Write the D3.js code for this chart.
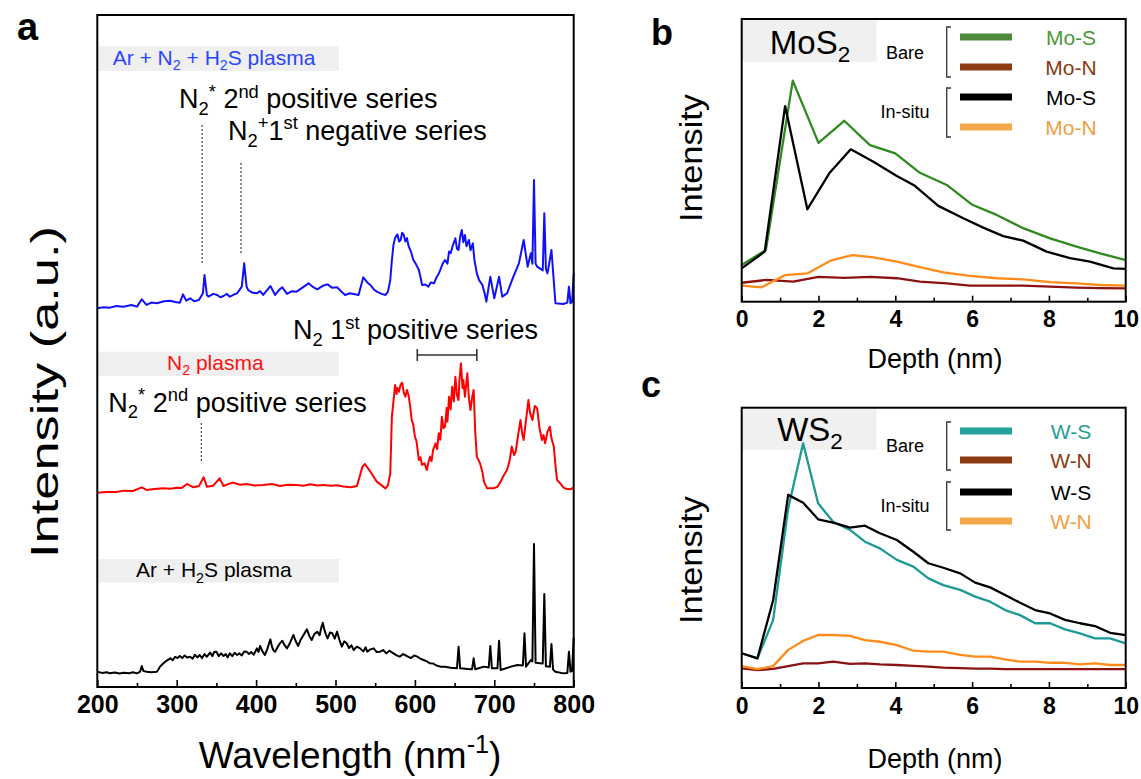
<!DOCTYPE html>
<html>
<head>
<meta charset="utf-8">
<script src="https://cdn.jsdelivr.net/npm/d3@7"></script>
<style>
  body { margin: 0; background: #fff; }
  svg { display: block; }
  text { font-family: "Liberation Sans", Arial, Helvetica, sans-serif; }
</style>
</head>
<body>
<svg id="fig" width="1141" height="779"></svg>
<script>
// ---------- Panel a: optical emission spectra (wavelength in nm, intensity in a.u.) ----------
const arH2sWl = [200,206,212,216,222,228,233,240,245,250,254,256,258,262,268,275,277,279,283,287,292,295,298,301,304,307,310,313,317,320,323,326,329,332,335,338,342,345,347,350,353,356,359,362,364,367,370,373,376,379,382,385,388,391,394,397,401,403,405,408,411,414,416,418,420,422,424,427,430,433,436,439,442,445,447,450,453,456,459,462,464,467,470,473,477,480,482,484,486,488,490,493,496,499,502,505,508,511,514,517,520,523,527,531,535,538,540,544,548,552,556,560,564,568,573,577,581,585,590,595,599,603,607,611,615,619,623,627,632,638,645,653,655,657,670,672,674,676,687,693,695,697,700,704,706,708,721,729,736,738,740,746,748,750,752,758,761,763,765,770,772,774,777,787,792,794,796,798,800];
const arH2sVal = [2.28,2.10,2.20,2.03,2.15,2.00,2.13,2.05,2.20,2.03,2.30,3.13,2.40,2.28,2.20,2.28,2.60,3.03,3.50,3.90,4.27,4.00,4.50,4.30,4.61,4.30,4.70,4.40,4.51,4.20,4.80,4.40,4.76,4.30,4.90,4.50,5.11,4.60,5.20,5.26,4.60,5.00,4.61,4.90,4.40,5.01,4.60,5.10,4.76,5.00,4.70,5.30,5.26,4.90,5.20,4.80,5.75,5.20,6.10,5.30,4.76,5.60,6.40,7.09,6.00,5.40,5.26,5.90,6.50,6.89,6.20,5.75,6.40,7.20,7.74,6.80,6.10,7.00,7.60,8.20,8.58,7.60,6.99,7.80,8.23,7.70,8.80,9.57,8.50,7.80,7.24,8.10,7.99,7.20,8.23,7.00,6.00,6.80,6.50,5.80,6.20,5.51,6.00,5.75,5.30,5.90,5.26,5.60,5.75,5.20,5.26,5.50,5.01,5.40,5.01,4.70,4.51,4.90,4.61,4.30,4.70,4.51,4.20,4.02,3.80,3.52,3.50,3.20,3.03,3.00,2.88,2.80,6.00,2.78,2.63,2.65,4.27,2.63,3.03,2.90,6.10,2.78,2.78,2.80,6.89,2.53,3.03,3.27,3.20,7.99,3.03,4.02,3.80,21.28,3.60,3.52,3.50,13.84,3.10,3.00,6.40,2.60,2.28,2.03,2.10,5.26,2.28,2.40,7.34];

const n2Wl = [200,212,224,233,245,256,262,272,283,292,300,306,313,321,328,334,338,346,354,359,365,371,380,388,398,409,420,430,440,451,460,468,477,485,494,502,510,519,527,534,537,544,552,563,566,569,571,573,575,577,578,580,582,584,586,588,590,592,594,596,598,600,602,605,607,609,612,615,617,619,621,623,626,628,630,632,634,636,638,640,641,643,645,647,649,651,653,655,656,658,660,661,663,666,668,670,672,674,676,678,682,685,687,691,699,704,708,712,716,719,722,725,727,730,733,735,737,740,743,745,748,751,754,757,760,762,764,767,770,772,775,777,779,783,787,790,796,800];
const n2Val = [1.92,2.00,2.02,2.22,2.17,2.71,2.32,2.45,2.56,2.50,2.66,2.60,3.21,2.71,2.90,4.20,2.81,2.96,4.06,2.91,3.20,3.41,3.10,3.21,3.00,3.06,3.20,2.91,3.10,3.06,2.95,3.16,2.98,3.06,2.95,3.01,2.85,2.71,2.91,5.79,6.19,5.04,3.56,2.56,3.00,4.80,13.23,15.50,17.94,16.60,17.50,16.95,18.00,18.29,16.80,16.20,17.20,16.45,14.80,12.73,12.00,10.25,9.60,6.78,7.20,6.04,6.30,5.29,6.40,7.28,6.60,8.30,9.26,8.40,10.75,9.80,13.23,11.50,11.74,14.50,12.50,16.20,14.30,17.69,15.50,19.18,16.40,15.71,18.50,21.16,17.50,18.68,16.20,19.68,16.00,14.22,16.00,17.19,11.00,7.28,6.29,5.00,3.56,2.56,2.56,2.80,3.56,4.50,5.29,6.50,8.77,7.50,8.02,10.50,12.73,10.80,9.76,12.80,15.71,13.80,12.73,14.80,14.47,11.50,9.76,10.50,9.26,11.00,11.74,10.00,8.77,6.00,3.81,3.31,2.71,2.50,2.42,2.71];

const arN2H2sWl = [200,208,216,224,233,243,250,256,262,268,275,284,292,298,304,308,312,317,322,328,333,335,338,340,346,351,355,359,363,367,372,376,382,385,388,390,395,401,405,409,418,424,429,433,439,445,451,458,466,472,477,484,490,496,502,507,512,518,523,529,535,540,544,548,552,558,563,566,569,571,573,575,578,580,582,584,586,588,590,592,595,598,601,605,607,609,613,617,620,624,627,630,632,635,638,641,643,645,648,651,653,655,657,659,661,663,665,668,670,673,675,678,681,685,688,690,695,700,706,710,716,724,731,737,742,746,748,750,752,754,761,763,765,767,772,777,787,792,794,796,798,800];
const arN2H2sVal = [2.35,2.50,2.45,2.70,2.60,2.85,2.60,3.69,2.85,3.20,3.10,3.40,3.49,3.30,3.19,4.43,3.50,3.84,3.40,3.59,4.58,7.31,4.34,4.09,4.50,4.34,4.00,4.19,4.50,4.09,4.40,4.58,5.58,9.05,5.58,5.08,4.70,4.58,4.90,4.34,5.67,4.34,5.10,5.48,4.49,4.90,4.83,5.40,6.07,5.50,5.18,5.70,5.92,5.40,5.48,4.90,4.34,4.60,4.49,4.34,6.96,6.20,5.82,5.20,4.83,4.50,4.34,4.80,6.57,9.50,11.78,12.80,13.37,12.30,12.52,13.60,13.27,12.30,12.80,11.63,10.80,9.54,9.00,8.06,7.00,5.82,5.90,5.58,6.20,6.07,6.90,7.50,8.06,9.00,9.54,9.00,10.80,10.54,11.80,12.77,11.20,11.03,13.00,14.01,12.20,13.27,11.60,12.52,11.00,12.02,9.50,7.56,6.50,5.82,4.50,3.34,7.06,3.84,7.06,4.09,4.58,7.06,9.05,12.52,8.55,10.54,9.00,21.45,9.00,8.55,8.00,16.49,8.20,7.56,11.03,3.10,3.00,3.20,5.58,3.10,3.30,7.56];

// vertical offsets used to stack the three spectra
const spectraOffsets = [0, 27, 54];
const spectraColors = ["#000000", "#ff0000", "#1010ff"];
const wlTicks = [200, 300, 400, 500, 600, 700, 800];
const wlMinorTicks = [250, 350, 450, 550, 650, 750];

// emission-band markers (nm)
const secondPositiveTop = 332, firstNegativeTop = 381, secondPositiveMid = 331;
const firstPositiveRange = [603, 678];

// ---------- Panels b, c: depth profiles (depth in nm, intensity in arbitrary units) ----------
const moBareSDepth = [0,0.63,1.33,2.0,2.67,3.34,4.0,4.64,5.34,5.99,6.64,7.33,8.03,8.72,9.33,9.93,10];
const moBareS      = [13.0,18.3,78.2,56.2,64.0,55.4,52.5,45.6,41.3,34.4,30.7,26.0,22.4,19.5,17.1,15.0,14.8];
const moBareNDepth = [0,0.65,1.34,2.0,2.67,3.36,4.04,4.64,5.34,5.94,6.64,7.33,8.03,8.72,9.33,10];
const moBareN      = [6.7,7.7,7.1,8.8,8.4,8.8,8.3,7.1,6.5,5.7,5.7,5.7,5.3,5.0,4.8,4.7];
const moInsituSDepth = [0,0.6,1.13,1.71,2.28,2.84,3.43,4.04,4.51,5.12,5.77,6.29,6.81,7.33,7.94,8.55,9.07,9.68,10];
const moInsituS      = [11.8,17.7,69.2,32.7,45.4,53.9,49.5,44.5,41.0,33.9,29.5,26.2,23.2,21.6,17.7,15.4,14.2,11.8,11.6];
const moInsituNDepth = [0,0.52,1.13,1.71,2.31,2.88,3.43,4.04,4.64,5.25,5.94,6.64,7.33,8.03,8.72,9.33,10];
const moInsituN      = [5.7,5.1,9.4,10.0,14.5,16.5,15.7,14.2,12.2,10.4,9.1,8.3,7.9,6.9,6.5,5.9,5.7];

const wDepth = [0,0.41,0.82,1.21,1.6,1.99,2.38,2.82,3.21,3.6,4.04,4.47,4.86,5.25,5.69,6.08,6.47,6.86,7.25,7.64,8.03,8.42,8.81,9.2,9.59,10];
const wBareS   = [12.4,10.6,24.3,64.0,87.3,65.9,59.3,56.4,52.2,49.8,45.7,43.3,39.1,36.7,35.0,32.6,30.8,27.8,26.0,23.1,23.1,20.9,19.5,17.7,17.7,15.9];
const wBareN   = [7.0,6.4,6.8,7.8,8.8,8.8,9.4,8.6,8.8,8.4,8.2,7.9,7.6,7.3,7.1,6.9,6.9,6.7,6.7,6.7,6.7,6.7,6.7,6.7,6.7,6.7];
const wInsituS = [12.4,10.6,31.4,68.9,66.1,60.2,59.0,57.2,57.9,55.2,52.8,48.6,44.5,42.9,40.9,37.6,35.9,33.2,30.4,27.8,26.6,24.3,23.1,22.1,19.7,18.9];
const wInsituN = [7.8,6.7,7.8,13.6,16.8,18.9,18.9,18.6,17.1,16.5,15.3,13.3,13.0,13.0,11.8,11.2,11.2,10.2,9.4,9.4,9.0,9.0,8.4,8.8,8.2,8.2];

const depthTicks = [0, 2, 4, 6, 8, 10];
const depthMinorTicks = [1, 3, 5, 7, 9];

const moLegendLabels = ["Mo-S", "Mo-N", "Mo-S", "Mo-N"];
const wLegendLabels  = ["W-S", "W-N", "W-S", "W-N"];
const legendGroups = ["Bare", "In-situ"];
const moLineColors = ["#2f8a1f", "#8b1212", "#000000", "#ff8c1a"];
const wLineColors  = ["#1c9a94", "#8b1212", "#000000", "#ff8c1a"];
const moSwatchColors = ["#4f8a3a", "#8b3a12", "#000000", "#f2a84a"];
const wSwatchColors  = ["#22a29b", "#8b3a12", "#000000", "#f2a84a"];
const moTextColors = ["#4e9a36", "#8b3a12", "#000000", "#f0a040"];
const wTextColors  = ["#1f9d96", "#8b3a12", "#000000", "#f0a040"];

// ---------- helpers ----------
const svg = d3.select("#fig");

// rich text with subscripts / superscripts: parts = [[string, "n"|"sub"|"sup"], ...]
function richText(parent, x, y, parts, size, opts = {}) {
  const t = parent.append("text")
    .attr("x", x).attr("y", y)
    .attr("font-size", size)
    .attr("fill", opts.fill || "#000")
    .attr("font-weight", opts.weight || "normal")
    .attr("text-anchor", opts.anchor || "start");
  let shift = 0;
  parts.forEach(([s, kind]) => {
    let target = 0, fs = size;
    if (kind === "sub") { target = size * 0.25; fs = size * 0.68; }
    if (kind === "sup") { target = -size * 0.4; fs = size * 0.68; }
    t.append("tspan")
      .attr("dy", target - shift)
      .attr("font-size", fs)
      .text(s);
    shift = target;
  });
  return t;
}

function styleAxis(g, fontSize) {
  g.select(".domain").remove();
  g.selectAll(".tick line").attr("stroke", "#000").attr("stroke-width", 1.6);
  g.selectAll(".tick text")
    .attr("fill", "#000")
    .attr("font-size", fontSize)
    .attr("font-weight", "bold")
    .attr("font-family", '"Liberation Sans", Arial, sans-serif');
}

// ---------- Panel a ----------
const ax = { left: 97.3, right: 573.7, top: 15, bottom: 687 };
const xWl = d3.scaleLinear().domain([200, 800]).range([ax.left, ax.right]);
const yA = d3.scaleLinear().domain([0, 100]).range([ax.bottom, ax.top]);

const pa = svg.append("g");

// label boxes
const labelBoxes = [
  { y0: 46, y1: 71 }, { y0: 351.7, y1: 376 }, { y0: 559, y1: 582.7 }
];
labelBoxes.forEach(b => {
  pa.append("rect").attr("x", ax.left + 1).attr("y", b.y0)
    .attr("width", 339 - ax.left - 1).attr("height", b.y1 - b.y0)
    .attr("fill", "#efefef");
});
richText(pa, 112.7, 65, [["Ar + N", "n"], ["2", "sub"], [" + H", "n"], ["2", "sub"], ["S plasma", "n"]], 21, { fill: "#2b45ff" });
richText(pa, 167, 369.5, [["N", "n"], ["2", "sub"], [" plasma", "n"]], 21, { fill: "#ff1010" });
richText(pa, 136, 577.3, [["Ar + H", "n"], ["2", "sub"], ["S plasma", "n"]], 21, { fill: "#000" });

const spectra = [
  { wl: arH2sWl, val: arH2sVal },
  { wl: n2Wl, val: n2Val },
  { wl: arN2H2sWl, val: arN2H2sVal }
];
spectra.forEach((s, i) => {
  const pts = s.wl.map((w, k) => [w, s.val[k] + spectraOffsets[i]]);
  pa.append("path")
    .datum(pts)
    .attr("fill", "none")
    .attr("stroke", spectraColors[i])
    .attr("stroke-width", 2)
    .attr("stroke-linejoin", "round")
    .attr("d", d3.line().x(d => xWl(d[0])).y(d => yA(d[1])));
});

// dotted band markers
const dotted = [
  { w: secondPositiveTop, y0: 125, y1: 263 },
  { w: firstNegativeTop, y0: 163, y1: 253 },
  { w: secondPositiveMid, y0: 423, y1: 462 }
];
dotted.forEach(d => {
  pa.append("line")
    .attr("x1", xWl(d.w)).attr("x2", xWl(d.w))
    .attr("y1", d.y0).attr("y2", d.y1)
    .attr("stroke", "#333").attr("stroke-width", 1.1)
    .attr("stroke-dasharray", "2,2");
});
// range bar for the first positive series
const barY = 355;
pa.append("line").attr("x1", xWl(firstPositiveRange[0])).attr("x2", xWl(firstPositiveRange[1]))
  .attr("y1", barY).attr("y2", barY).attr("stroke", "#333").attr("stroke-width", 1.6);
firstPositiveRange.forEach(w => {
  pa.append("line").attr("x1", xWl(w)).attr("x2", xWl(w))
    .attr("y1", barY - 6).attr("y2", barY + 6).attr("stroke", "#333").attr("stroke-width", 1.6);
});

richText(pa, 179, 108.3, [["N", "n"], ["2", "sub"], ["*", "sup"], ["  2", "n"], ["nd", "sup"], [" positive series", "n"]], 27);
richText(pa, 228, 140, [["N", "n"], ["2", "sub"], ["+", "sup"], ["1", "n"], ["st", "sup"], [" negative series", "n"]], 27);
richText(pa, 293, 339.3, [["N", "n"], ["2", "sub"], ["  1", "n"], ["st", "sup"], [" positive series", "n"]], 27);
richText(pa, 108.3, 411.7, [["N", "n"], ["2", "sub"], ["*", "sup"], [" 2", "n"], ["nd", "sup"], [" positive series", "n"]], 27);

// frame
pa.append("rect").attr("x", ax.left).attr("y", ax.top)
  .attr("width", ax.right - ax.left).attr("height", ax.bottom - ax.top)
  .attr("fill", "none").attr("stroke", "#000").attr("stroke-width", 2);

const gA = pa.append("g").attr("transform", `translate(0,${ax.bottom})`)
  .call(d3.axisBottom(xWl).tickValues(wlTicks).tickSize(-7).tickPadding(8).tickFormat(d3.format("d")));
styleAxis(gA, 25);
const gAm = pa.append("g").attr("transform", `translate(0,${ax.bottom})`)
  .call(d3.axisBottom(xWl).tickValues(wlMinorTicks).tickSize(-4).tickFormat(""));
styleAxis(gAm, 25);

richText(pa, 350, 768, [["Wavelength (nm", "n"], ["-1", "sup"], [")", "n"]], 37, { anchor: "middle" });
pa.append("text")
  .attr("transform", "translate(58,392) rotate(-90)")
  .attr("text-anchor", "middle")
  .attr("font-size", 38)
  .attr("textLength", 332)
  .attr("lengthAdjust", "spacingAndGlyphs")
  .text("Intensity (a.u.)");
pa.append("text").attr("x", 17).attr("y", 40).attr("font-size", 38).attr("font-weight", "bold").text("a");

// ---------- Panels b and c ----------
function depthPanel(cfg) {
  const left = 741.7, right = 1125.7;
  const x = d3.scaleLinear().domain([0, 10]).range([left, right]);
  const y = d3.scaleLinear().domain([0, 100]).range([cfg.bottom, cfg.top]);
  const g = svg.append("g");

  g.append("rect").attr("x", left).attr("y", cfg.top)
    .attr("width", 876.7 - left).attr("height", cfg.boxH).attr("fill", "#f0f0f0");
  richText(g, 810, cfg.titleY, cfg.title, 33, { anchor: "middle" });

  cfg.series.forEach(s => {
    const pts = s.d.map((dd, k) => [dd, s.v[k]]);
    g.append("path").datum(pts)
      .attr("fill", "none").attr("stroke", cfg.lineColors[s.c])
      .attr("stroke-width", 2.3).attr("stroke-linejoin", "round")
      .attr("d", d3.line().x(d => x(d[0])).y(d => y(d[1])));
  });

  // legend
  cfg.legendY.forEach((ly, i) => {
    g.append("line").attr("x1", 960).attr("x2", 1012).attr("y1", ly).attr("y2", ly)
      .attr("stroke", cfg.swatchColors[i]).attr("stroke-width", 7);
    g.append("text").attr("x", 1071).attr("y", ly + 8)
      .attr("text-anchor", "middle").attr("font-size", 21)
      .attr("fill", cfg.textColors[i]).text(cfg.labels[i]);
  });
  cfg.brackets.forEach((br, i) => {
    g.append("path")
      .attr("d", `M${951},${br[0]} H${946.7} V${br[1]} H${951}`)
      .attr("fill", "none").attr("stroke", "#333").attr("stroke-width", 1.3);
    g.append("text").attr("x", 905).attr("y", cfg.groupY[i])
      .attr("text-anchor", "middle").attr("font-size", 18).text(legendGroups[i]);
  });

  g.append("rect").attr("x", left).attr("y", cfg.top)
    .attr("width", right - left).attr("height", cfg.bottom - cfg.top)
    .attr("fill", "none").attr("stroke", "#000").attr("stroke-width", 2);

  const ga = g.append("g").attr("transform", `translate(0,${cfg.bottom})`)
    .call(d3.axisBottom(x).tickValues(depthTicks).tickSize(-6).tickPadding(cfg.pad).tickFormat(d3.format("d")));
  styleAxis(ga, 23);
  const gm = g.append("g").attr("transform", `translate(0,${cfg.bottom})`)
    .call(d3.axisBottom(x).tickValues(depthMinorTicks).tickSize(-4).tickFormat(""));
  styleAxis(gm, 23);

  g.append("text").attr("x", 935).attr("y", cfg.xTitleY)
    .attr("text-anchor", "middle").attr("font-size", 27).text("Depth (nm)");
  g.append("text")
    .attr("transform", `translate(702,${cfg.yTitleC}) rotate(-90)`)
    .attr("text-anchor", "middle").attr("font-size", 31)
    .attr("textLength", 128).attr("lengthAdjust", "spacingAndGlyphs")
    .text("Intensity");
  g.append("text").attr("x", cfg.letterX).attr("y", cfg.letterY)
    .attr("font-size", 36).attr("font-weight", "bold").text(cfg.letter);
}

depthPanel({
  top: 19, bottom: 301.7, boxH: 42.7, titleY: 53.5,
  title: [["MoS", "n"], ["2", "sub"]],
  series: [
    { d: moBareNDepth, v: moBareN, c: 1 },
    { d: moInsituNDepth, v: moInsituN, c: 3 },
    { d: moBareSDepth, v: moBareS, c: 0 },
    { d: moInsituSDepth, v: moInsituS, c: 2 }
  ],
  lineColors: moLineColors, swatchColors: moSwatchColors, textColors: moTextColors,
  labels: moLegendLabels,
  legendY: [37, 67, 97, 127],
  brackets: [[27, 77], [88, 137]],
  groupY: [59, 118],
  pad: 9, xTitleY: 368, yTitleC: 158,
  letter: "b", letterX: 651, letterY: 45
});

depthPanel({
  top: 407.7, bottom: 688, boxH: 42.3, titleY: 440.5,
  title: [["WS", "n"], ["2", "sub"]],
  series: [
    { d: wDepth, v: wBareN, c: 1 },
    { d: wDepth, v: wInsituN, c: 3 },
    { d: wDepth, v: wBareS, c: 0 },
    { d: wDepth, v: wInsituS, c: 2 }
  ],
  lineColors: wLineColors, swatchColors: wSwatchColors, textColors: wTextColors,
  labels: wLegendLabels,
  legendY: [431, 460, 492, 521],
  brackets: [[422, 470], [482, 530]],
  groupY: [452, 512],
  pad: 10, xTitleY: 768, yTitleC: 560,
  letter: "c", letterX: 641, letterY: 397
});
</script>
</body>
</html>
